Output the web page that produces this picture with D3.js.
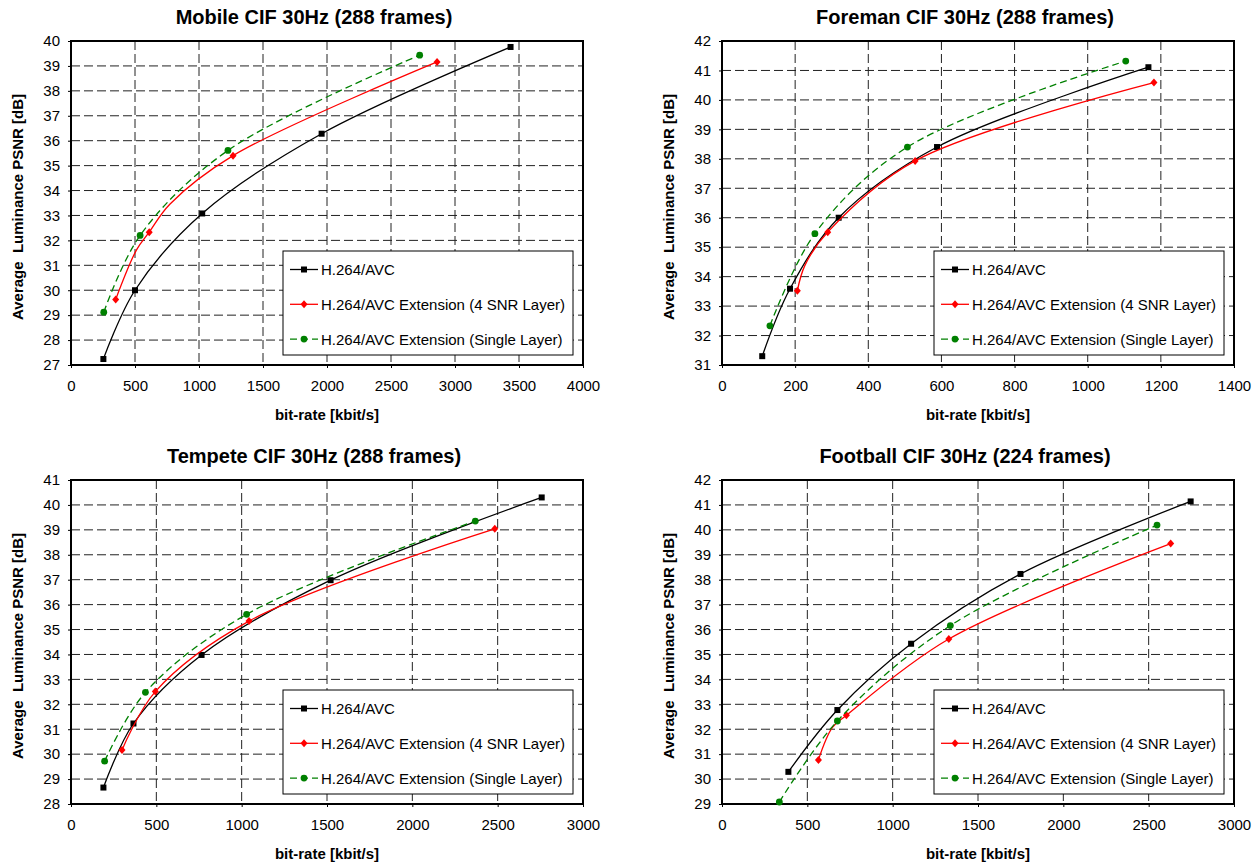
<!DOCTYPE html>
<html>
<head>
<meta charset="utf-8">
<script src="https://cdn.jsdelivr.net/npm/d3@7/dist/d3.min.js"></script>
<style>
	body { margin: 0; background: #fff; }
	text { font-family: "Liberation Sans", Arial, sans-serif; fill: #000; }
</style>
</head>
<body>
<div id="chart-area"></div>
<script>
// LEGEND / AXIS TEXT
var seriesNames = ["H.264/AVC", "H.264/AVC Extension (4 SNR Layer)", "H.264/AVC Extension (Single Layer)"];
var yTitle = "Average  Luminance PSNR [dB]";
var xTitle = "bit-rate [kbit/s]";

// MOBILE  [bit-rate, PSNR]; "Path" arrays are line points without a marker
var mobileAvc = [[253, 27.24], [500, 30.0], [1025, 33.08], [1958, 36.28], [3434, 39.76]];
var mobileSnr = [[349, 29.63], [611, 32.33], [1266, 35.4], [2860, 39.16]];
var mobileSnrPath = [[512, 31.62], [772, 33.45]];
var mobileSingle = [[256, 29.12], [540, 32.2], [1226, 35.61], [2724, 39.43]];

// FOREMAN
var foremanAvc = [[110, 31.3], [186, 33.59], [319, 36.0], [588, 38.4], [1166, 41.11]];
var foremanSnr = [[206, 33.52], [289, 35.51], [528, 37.93], [1181, 40.59]];
var foremanSnrPath = [[227, 34.39]];
var foremanSingle = [[131, 32.33], [254, 35.46], [507, 38.4], [1104, 41.32]];

// TEMPETE
var tempeteAvc = [[190, 28.66], [366, 31.23], [765, 33.98], [1521, 36.98], [2758, 40.3]];
var tempeteSnr = [[299, 30.17], [494, 32.51], [1043, 35.34], [2483, 39.04]];
var tempeteSingle = [[197, 29.72], [436, 32.48], [1029, 35.61], [2369, 39.35]];

// FOOTBALL
var footballAvc = [[389, 30.29], [676, 32.77], [1108, 35.43], [1749, 38.23], [2746, 41.14]];
var footballSnr = [[565, 30.77], [729, 32.56], [1329, 35.62], [2629, 39.45]];
var footballSnrPath = [[647, 32.07]];
var footballSingle = [[336, 29.08], [676, 32.33], [1338, 36.16], [2549, 40.19]];

var panels = [
	{ title: "Mobile CIF 30Hz (288 frames)", left: 71, top: 41, xMax: 4000, xStep: 500, yMin: 27, yMax: 40,
		data: [[mobileAvc, []], [mobileSnr, mobileSnrPath], [mobileSingle, []]] },
	{ title: "Foreman CIF 30Hz (288 frames)", left: 722, top: 41, xMax: 1400, xStep: 200, yMin: 31, yMax: 42,
		data: [[foremanAvc, []], [foremanSnr, foremanSnrPath], [foremanSingle, []]] },
	{ title: "Tempete CIF 30Hz (288 frames)", left: 71, top: 480, xMax: 3000, xStep: 500, yMin: 28, yMax: 41,
		data: [[tempeteAvc, []], [tempeteSnr, []], [tempeteSingle, []]] },
	{ title: "Football CIF 30Hz (224 frames)", left: 722, top: 480, xMax: 3000, xStep: 500, yMin: 29, yMax: 42,
		data: [[footballAvc, []], [footballSnr, footballSnrPath], [footballSingle, []]] }
];

var width = 512, height = 324;
var colors = ["#000000", "#ff0000", "#008000"];
var dashes = [null, null, "7,4"];

var svg = d3.select("#chart-area")
	.append("svg")
	.attr("width", 1257)
	.attr("height", 866);

// MARKERS
function drawMarker(sel, i, cx, cy) {
	if (i === 0) {
		sel.append("rect")
			.attr("x", cx - 3).attr("y", cy - 3)
			.attr("width", 6).attr("height", 6)
			.attr("fill", colors[0]);
	} else if (i === 1) {
		sel.append("path")
			.attr("d", "M" + cx + "," + (cy - 4) + "L" + (cx + 3.5) + "," + cy +
				"L" + cx + "," + (cy + 4) + "L" + (cx - 3.5) + "," + cy + "Z")
			.attr("fill", colors[1]);
	} else {
		sel.append("circle")
			.attr("cx", cx).attr("cy", cy).attr("r", 3.4)
			.attr("fill", colors[2]);
	}
}

panels.forEach(function (p) {
	var g = svg.append("g")
		.attr("transform", "translate(" + p.left + "," + p.top + ")");

	// SCALES
	var x = d3.scaleLinear().domain([0, p.xMax]).range([0, width]);
	var y = d3.scaleLinear().domain([p.yMin, p.yMax]).range([height, 0]);
	var xTicks = d3.range(0, p.xMax + 1, p.xStep);
	var yTicks = d3.range(p.yMin, p.yMax + 1, 1);

	// GRID
	g.append("g").selectAll("line")
		.data(yTicks.slice(1, -1))
		.enter().append("line")
		.attr("x1", 0).attr("x2", width)
		.attr("y1", function (d) { return y(d); })
		.attr("y2", function (d) { return y(d); })
		.attr("stroke", "#222")
		.attr("stroke-dasharray", "9,4");
	g.append("g").selectAll("line")
		.data(xTicks.slice(1, -1))
		.enter().append("line")
		.attr("y1", 0).attr("y2", height)
		.attr("x1", function (d) { return x(d); })
		.attr("x2", function (d) { return x(d); })
		.attr("stroke", "#222")
		.attr("stroke-dasharray", "9,4");

	// AXES
	var xAxisCall = d3.axisBottom(x).tickValues(xTicks).tickFormat(d3.format("d"))
		.tickSizeInner(3).tickSizeOuter(0).tickPadding(12);
	var xAxis = g.append("g")
		.attr("transform", "translate(0," + height + ")")
		.call(xAxisCall);
	var yAxisCall = d3.axisLeft(y).tickValues(yTicks).tickFormat(d3.format("d"))
		.tickSizeInner(3).tickSizeOuter(0).tickPadding(8);
	var yAxis = g.append("g").call(yAxisCall);
	[xAxis, yAxis].forEach(function (a) {
		a.select(".domain").remove();
		a.selectAll("text").attr("font-size", "15px").attr("font-family", "Liberation Sans, Arial, sans-serif");
		a.selectAll(".tick line").attr("stroke", "#000");
	});

	// FRAME
	g.append("rect")
		.attr("width", width).attr("height", height)
		.attr("fill", "none")
		.attr("stroke", "#000")
		.attr("stroke-width", 2);

	// LINES
	var line = d3.line()
		.x(function (d) { return x(d[0]); })
		.y(function (d) { return y(d[1]); })
		.curve(d3.curveCatmullRom.alpha(0.5));

	p.data.forEach(function (s, i) {
		var pts = s[0].concat(s[1]).sort(function (a, b) { return a[0] - b[0]; });
		g.append("path")
			.attr("d", line(pts))
			.attr("fill", "none")
			.attr("stroke", colors[i])
			.attr("stroke-width", 1.3)
			.attr("stroke-dasharray", dashes[i]);
		var mg = g.append("g");
		s[0].forEach(function (d) { drawMarker(mg, i, x(d[0]), y(d[1])); });
	});

	// LEGEND
	var lg = g.append("g")
		.attr("transform", "translate(" + (width - 300) + "," + 210 + ")");
	lg.append("rect")
		.attr("width", 290).attr("height", 104)
		.attr("fill", "#fff")
		.attr("stroke", "#000")
		.attr("stroke-width", 1);
	seriesNames.forEach(function (name, i) {
		var ly = 18.5 + i * 34.8;
		lg.append("line")
			.attr("x1", 7).attr("x2", 35)
			.attr("y1", ly).attr("y2", ly)
			.attr("stroke", colors[i])
			.attr("stroke-width", 1.3)
			.attr("stroke-dasharray", dashes[i]);
		drawMarker(lg, i, 21, ly);
		lg.append("text")
			.attr("x", 38).attr("y", ly)
			.attr("dy", "0.36em")
			.attr("font-size", "15px")
			.text(name);
	});

	// LABELS
	g.append("text")
		.attr("x", width / 2 - 13)
		.attr("y", -17)
		.attr("text-anchor", "middle")
		.attr("font-size", "20px")
		.attr("font-weight", "bold")
		.text(p.title);

	g.append("text")
		.attr("x", width / 2)
		.attr("y", height + 55)
		.attr("text-anchor", "middle")
		.attr("font-size", "15px")
		.attr("font-weight", "bold")
		.text(xTitle);

	g.append("text")
		.attr("transform", "rotate(-90)")
		.attr("x", -(height / 2) - 4)
		.attr("y", -53)
		.attr("dy", "0.35em")
		.attr("text-anchor", "middle")
		.attr("font-size", "15px")
		.attr("font-weight", "bold")
		.style("white-space", "pre")
		.text(yTitle);
});
</script>
</body>
</html>
